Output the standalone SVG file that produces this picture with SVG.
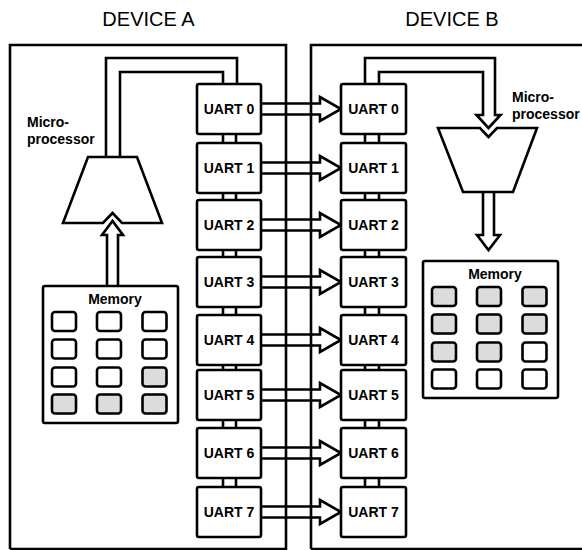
<svg xmlns="http://www.w3.org/2000/svg" width="582" height="550" viewBox="0 0 582 550">
<style>
.ln{fill:none;stroke:#000;stroke-width:2.6;stroke-linejoin:miter}
.box{fill:#fff;stroke:#000;stroke-width:2.6}
.cell{fill:#fff;stroke:#000;stroke-width:2.6}
.g{fill:#dcdcdc}
.title{font-family:"Liberation Sans",Arial,sans-serif;font-size:20px;fill:#000}
.lbl{font-family:"Liberation Sans",Arial,sans-serif;font-size:14px;font-weight:bold;fill:#000}
.sm{font-family:"Liberation Sans",Arial,sans-serif;font-size:14px;font-weight:bold;fill:#000}
</style>
<rect width="582" height="550" fill="#fff"/>
<text class="title" x="148.5" y="26" text-anchor="middle">DEVICE A</text>
<text class="title" x="452" y="26" text-anchor="middle">DEVICE B</text>
<g id="deviceA">
<path class="ln" d="M10,549 V45 H286 V549 H10"/>
</g>
<g id="deviceB">
<path class="ln" d="M311,549 V45 H590 M311,549 H590"/>
</g>
<g id="connectors">
<path class="ln" d="M106,157 V58 H237 V84 M120,157 V72 H223 V84"/>
<path class="ln" d="M365,84 V58 H495 V115 H500.5 L488.5,128 L476.5,115 H483 V72 H379 V84"/>
<path class="ln" d="M107,286 V235 H102 L112.5,221 L123,235 H118 V286"/>
<path class="ln" d="M483,192 V235 H477 L488.5,250 L500,235 H494 V192"/>
<path class="ln" d="M223,134 V143 M236,134 V143 M223,193 V200 M236,193 V200 M223,250 V257 M236,250 V257 M223,307 V315 M236,307 V315 M223,365 V370 M236,365 V370 M223,420 V428 M236,420 V428 M223,478 V487 M236,478 V487"/>
<path class="ln" d="M365,134 V143 M379,134 V143 M365,193 V200 M379,193 V200 M365,250 V257 M379,250 V257 M365,307 V315 M379,307 V315 M365,365 V370 M379,365 V370 M365,420 V428 M379,420 V428 M365,478 V487 M379,478 V487"/>
<path class="ln" d="M261,103.5 H320 V97 L341,109 L320,121 V114.5 H261"/>
<path class="ln" d="M261,162.5 H320 V156 L341,168 L320,180 V173.5 H261"/>
<path class="ln" d="M261,219.5 H320 V213 L341,225 L320,237 V230.5 H261"/>
<path class="ln" d="M261,276.5 H320 V270 L341,282 L320,294 V287.5 H261"/>
<path class="ln" d="M261,334.5 H320 V328 L341,340 L320,352 V345.5 H261"/>
<path class="ln" d="M261,389.5 H320 V383 L341,395 L320,407 V400.5 H261"/>
<path class="ln" d="M261,447.5 H320 V441 L341,453 L320,465 V458.5 H261"/>
<path class="ln" d="M261,506.5 H320 V500 L341,512 L320,524 V517.5 H261"/>
</g>
<g id="cpuA">
<path class="ln" d="M88,157 H137 L162,223 H122 L112.5,213 L103,223 H63 Z"/>
<text class="sm" x="27" y="127">Micro-</text>
<text class="sm" x="27" y="143.5">processor</text>
</g>
<g id="cpuB">
<path class="ln" d="M438,128 H480 L488.5,137 L497,128 H537 L513,192 H463 Z"/>
<text class="sm" x="512" y="102">Micro-</text>
<text class="sm" x="512" y="118.5">processor</text>
</g>
<g id="memA">
<rect class="box" x="43" y="286" width="135" height="137" rx="2"/>
<text class="lbl" x="115" y="304" text-anchor="middle">Memory</text>
<rect class="cell" x="52" y="312" width="24" height="19" rx="3"/>
<rect class="cell" x="97" y="312" width="24" height="19" rx="3"/>
<rect class="cell" x="142.5" y="312" width="24" height="19" rx="3"/>
<rect class="cell" x="52" y="339.5" width="24" height="19" rx="3"/>
<rect class="cell" x="97" y="339.5" width="24" height="19" rx="3"/>
<rect class="cell" x="142.5" y="339.5" width="24" height="19" rx="3"/>
<rect class="cell" x="52" y="367.5" width="24" height="19" rx="3"/>
<rect class="cell" x="97" y="367.5" width="24" height="19" rx="3"/>
<rect class="cell g" x="142.5" y="367.5" width="24" height="19" rx="3"/>
<rect class="cell g" x="52" y="394.5" width="24" height="19" rx="3"/>
<rect class="cell g" x="97" y="394.5" width="24" height="19" rx="3"/>
<rect class="cell g" x="142.5" y="394.5" width="24" height="19" rx="3"/>
</g>
<g id="memB">
<rect class="box" x="423" y="261" width="135" height="137" rx="2"/>
<text class="lbl" x="495" y="279" text-anchor="middle">Memory</text>
<rect class="cell g" x="432" y="287" width="24" height="19" rx="3"/>
<rect class="cell g" x="477" y="287" width="24" height="19" rx="3"/>
<rect class="cell g" x="522.5" y="287" width="24" height="19" rx="3"/>
<rect class="cell g" x="432" y="314.5" width="24" height="19" rx="3"/>
<rect class="cell g" x="477" y="314.5" width="24" height="19" rx="3"/>
<rect class="cell g" x="522.5" y="314.5" width="24" height="19" rx="3"/>
<rect class="cell g" x="432" y="342.5" width="24" height="19" rx="3"/>
<rect class="cell g" x="477" y="342.5" width="24" height="19" rx="3"/>
<rect class="cell" x="522.5" y="342.5" width="24" height="19" rx="3"/>
<rect class="cell" x="432" y="369.5" width="24" height="19" rx="3"/>
<rect class="cell" x="477" y="369.5" width="24" height="19" rx="3"/>
<rect class="cell" x="522.5" y="369.5" width="24" height="19" rx="3"/>
</g>
<g id="uartA0"><rect class="box" x="197" y="84" width="64" height="50" rx="2"/><text class="lbl" x="229" y="114" text-anchor="middle">UART 0</text></g>
<g id="uartA1"><rect class="box" x="197" y="143" width="64" height="50" rx="2"/><text class="lbl" x="229" y="173" text-anchor="middle">UART 1</text></g>
<g id="uartA2"><rect class="box" x="197" y="200" width="64" height="50" rx="2"/><text class="lbl" x="229" y="230" text-anchor="middle">UART 2</text></g>
<g id="uartA3"><rect class="box" x="197" y="257" width="64" height="50" rx="2"/><text class="lbl" x="229" y="287" text-anchor="middle">UART 3</text></g>
<g id="uartA4"><rect class="box" x="197" y="315" width="64" height="50" rx="2"/><text class="lbl" x="229" y="345" text-anchor="middle">UART 4</text></g>
<g id="uartA5"><rect class="box" x="197" y="370" width="64" height="50" rx="2"/><text class="lbl" x="229" y="400" text-anchor="middle">UART 5</text></g>
<g id="uartA6"><rect class="box" x="197" y="428" width="64" height="50" rx="2"/><text class="lbl" x="229" y="458" text-anchor="middle">UART 6</text></g>
<g id="uartA7"><rect class="box" x="197" y="487" width="64" height="50" rx="2"/><text class="lbl" x="229" y="517" text-anchor="middle">UART 7</text></g>
<g id="uartB0"><rect class="box" x="341" y="84" width="65" height="50" rx="2"/><text class="lbl" x="373.5" y="114" text-anchor="middle">UART 0</text></g>
<g id="uartB1"><rect class="box" x="341" y="143" width="65" height="50" rx="2"/><text class="lbl" x="373.5" y="173" text-anchor="middle">UART 1</text></g>
<g id="uartB2"><rect class="box" x="341" y="200" width="65" height="50" rx="2"/><text class="lbl" x="373.5" y="230" text-anchor="middle">UART 2</text></g>
<g id="uartB3"><rect class="box" x="341" y="257" width="65" height="50" rx="2"/><text class="lbl" x="373.5" y="287" text-anchor="middle">UART 3</text></g>
<g id="uartB4"><rect class="box" x="341" y="315" width="65" height="50" rx="2"/><text class="lbl" x="373.5" y="345" text-anchor="middle">UART 4</text></g>
<g id="uartB5"><rect class="box" x="341" y="370" width="65" height="50" rx="2"/><text class="lbl" x="373.5" y="400" text-anchor="middle">UART 5</text></g>
<g id="uartB6"><rect class="box" x="341" y="428" width="65" height="50" rx="2"/><text class="lbl" x="373.5" y="458" text-anchor="middle">UART 6</text></g>
<g id="uartB7"><rect class="box" x="341" y="487" width="65" height="50" rx="2"/><text class="lbl" x="373.5" y="517" text-anchor="middle">UART 7</text></g>
</svg>
